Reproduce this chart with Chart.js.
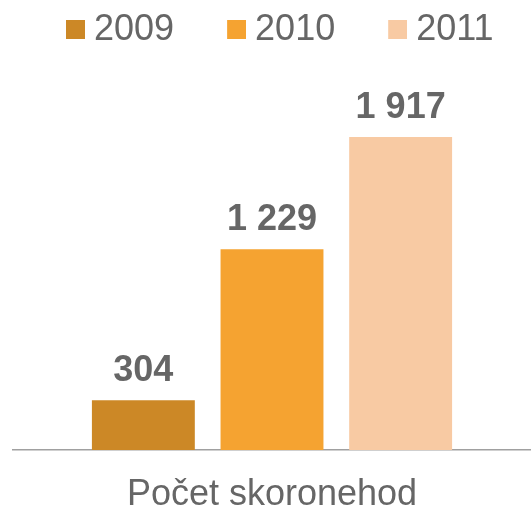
<!DOCTYPE html>
<html>
<head>
<meta charset="utf-8">
<script src="https://cdn.jsdelivr.net/npm/chart.js@4.4.2/dist/chart.umd.min.js"></script>
<style>
  html, body { margin: 0; padding: 0; background: #fff; }
  #wrap { width: 531px; height: 510px; }
</style>
</head>
<body>
<div id="wrap"><canvas id="chart"></canvas></div>
<script>
const categories = ['Počet skoronehod'];
const seriesLabels = ['2009', '2010', '2011'];
const values2009 = [304];
const values2010 = [1229];
const values2011 = [1917];
const seriesColors = ['#cc8826', '#f5a331', '#f8caa3'];

const textColor = '#666666';
const fontFamily = "'Liberation Sans', Arial, sans-serif";

function formatNumber(v) {
  return String(v).replace(/\B(?=(\d{3})+(?!\d))/g, ' ');
}

// legend swatch: 19px square that sits 9px left of the text
function swatch(color) {
  const c = document.createElement('canvas');
  c.width = 71;
  c.height = 20;
  const ctx = c.getContext('2d');
  ctx.fillStyle = color;
  ctx.fillRect(52, 0, 19, 19);
  return c;
}
const swatches = seriesColors.map(swatch);

// value labels above the bars
const barLabels = {
  id: 'barLabels',
  afterDatasetsDraw(chart) {
    const ctx = chart.ctx;
    ctx.save();
    ctx.font = 'bold 36px ' + fontFamily;
    ctx.fillStyle = textColor;
    ctx.textAlign = 'center';
    ctx.textBaseline = 'alphabetic';
    chart.data.datasets.forEach((ds, i) => {
      chart.getDatasetMeta(i).data.forEach((bar, j) => {
        ctx.fillText(formatNumber(ds.data[j]), bar.x, bar.y - 19);
      });
    });
    ctx.restore();
  }
};

const seriesValues = [values2009, values2010, values2011];

new Chart(document.getElementById('chart'), {
  type: 'bar',
  data: {
    labels: categories,
    datasets: seriesLabels.map((label, i) => ({
      label: label,
      data: seriesValues[i],
      backgroundColor: seriesColors[i],
      categoryPercentage: 0.745,
      barPercentage: 0.8
    }))
  },
  options: {
    responsive: true,
    maintainAspectRatio: false,
    animation: false,
    layout: {
      // tick padding is counted twice in the axis height, give it back at the bottom
      padding: { top: 2, left: 13, right: 0, bottom: -29.6 }
    },
    plugins: {
      tooltip: { enabled: false },
      legend: {
        position: 'top',
        align: 'start',
        labels: {
          usePointStyle: true,
          pointStyleWidth: 53,
          padding: 10,
          color: textColor,
          font: { family: fontFamily, size: 36 },
          generateLabels: chart =>
            Chart.defaults.plugins.legend.labels.generateLabels(chart)
              .map((item, i) => Object.assign(item, { pointStyle: swatches[i] }))
        }
      }
    },
    scales: {
      x: {
        grid: { display: false, drawTicks: false },
        border: { display: true, color: '#a0a0a0', width: 1.5 },
        ticks: {
          color: textColor,
          maxRotation: 0,
          padding: 29.5,
          font: { family: fontFamily, size: 36, lineHeight: 0.85 }
        }
      },
      y: {
        display: false,
        min: 0,
        max: 2400
      }
    }
  },
  plugins: [barLabels]
});
</script>
</body>
</html>
